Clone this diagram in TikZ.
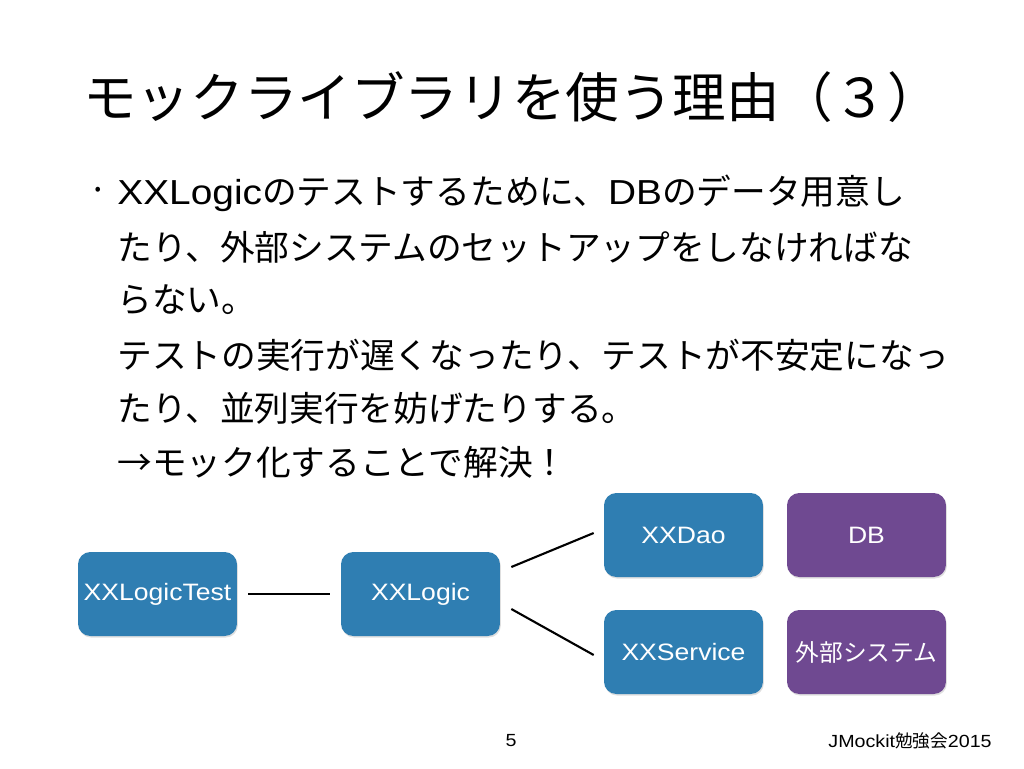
\documentclass[tikz,border=0pt]{standalone}
\usepackage{fontspec}
\setmainfont{Noto Sans CJK JP}
\newfontfamily\latin[FakeStretch=1.12]{Liberation Sans}
\usetikzlibrary{positioning,shadows}
\definecolor{boxblue}{RGB}{47,126,178}
\definecolor{boxpurple}{RGB}{111,73,145}
\tikzset{
  module/.style={rectangle,rounded corners=7pt,fill=boxblue,text=white,
    minimum width=3.18cm,minimum height=1.68cm,inner sep=0pt,
    font=\fontsize{13.5}{16}\selectfont,
    drop shadow={opacity=0.25,shadow xshift=0.5pt,shadow yshift=-0.9pt}},
  outside/.style={module,fill=boxpurple},
  bodyline/.style={anchor=west,inner sep=0pt,font=\fontsize{19.75}{24}\selectfont},
  link/.style={line width=1.2pt,black}
}
\begin{document}
\begin{tikzpicture}[x=0.02cm,y=-0.02cm]
    \useasboundingbox[fill=white] (0,0) rectangle (1024,768);
    % Titre
    \node[anchor=west,inner sep=0pt,font=\fontsize{30.5}{35}\selectfont] (title) at (83,97) {モックライブラリを使う理由（３）};
    % Texte
    \node[inner sep=0pt,font=\fontsize{20}{24}\selectfont] (bullet) at (98,195) {·};
    \node[bodyline] (l1) at (117,193) {{\latin XXLogic}のテストするために、{\latin DB}のデータ用意し};
    \node[bodyline] (l2) at (117,247) {たり、外部システムのセットアップをしなければな};
    \node[bodyline] (l3) at (117,300) {らない。};
    \node[bodyline] (l4) at (117,355) {テストの実行が遅くなったり、テストが不安定になっ};
    \node[bodyline] (l5) at (117,408) {たり、並列実行を妨げたりする。};
    \node[bodyline] (l6) at (117,462) {→モック化することで解決！};
    % Modules
    \node[module] (test) at (157.5,594) {\latin XXLogicTest};
    \node[module] (logic) at (420.5,594) {\latin XXLogic};
    \node[module] (dao) at (683.5,535) {\latin XXDao};
    \node[module] (service) at (683.5,652) {\latin XXService};
    \node[outside] (db) at (866.5,535) {\latin DB};
    \node[outside] (ext) at (866.5,652) {外部システム};
    % Liens
    \draw[link] ([shift={(11,0)}]test.east) -- ([shift={(-11,0)}]logic.west);
    \draw[link] ([shift={(11,-27)}]logic.east) -- ([shift={(-10,-2)}]dao.west);
    \draw[link] ([shift={(11,15)}]logic.east) -- ([shift={(-10,3)}]service.west);
    % Pied de page
    \node[inner sep=0pt,font=\fontsize{10}{12}\selectfont] (page) at (511,741) {\latin 5};
    \node[anchor=east,inner sep=0pt,font=\fontsize{10}{12}\selectfont] (event) at (992,741) {{\latin JMockit}勉強会{\latin 2015}};
\end{tikzpicture}
\end{document}
